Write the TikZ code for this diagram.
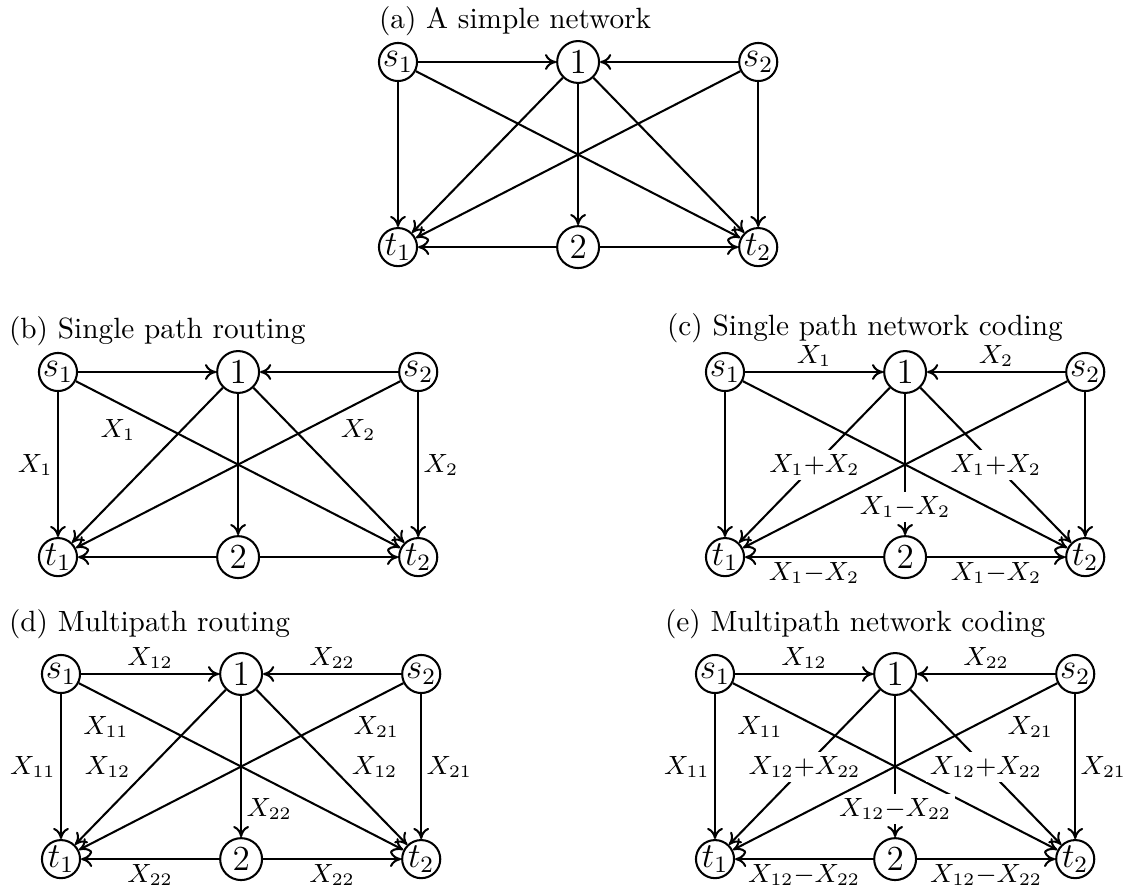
\documentclass[tikz,border=0pt]{standalone}
\usepackage{amsmath}
\usepackage{amsfonts}
\usepackage{tikz}
\usetikzlibrary{arrows.meta,automata,positioning}

\tikzset{
  every state/.style={minimum size=13pt,inner sep=0pt,font=\large},
  relay/.style={minimum size=14.3pt},
  flow/.style={font=\small,inner sep=1.5pt},
  coded/.style={font=\small,fill=white,inner sep=1.5pt,anchor=center},
  caption/.style={anchor=west,inner sep=0pt}
}

\begin{document}
\begin{tikzpicture}[x=0.012cm,y=-0.012cm,line width=0.7pt,>={To[length=3.8pt,width=5.4pt]},
        node distance=2.22cm and 2.16cm,on grid,auto]
        \useasboundingbox (0,0) rectangle (1123,888);

        % (a)
        \node[caption] (cap_a) at (378,21) {(a) A simple network};
        \node[state] (s_1a) at (398,62) {$s_1$};
        \node[state,relay] (n_1a) [right=of s_1a] {$1$};
        \node[state] (s_2a) [right=of n_1a] {$s_2$};
        \node[state] (t_1a) [below=of s_1a] {$t_1$};
        \node[state,relay] (n_2a) [right=of t_1a] {$2$};
        \node[state] (t_2a) [right=of n_2a] {$t_2$};
        \path[->]
        (s_1a) edge (n_1a)
        (s_2a) edge (n_1a)
        (s_1a) edge (t_1a)
        (s_1a) edge (t_2a)
        (n_1a) edge (t_1a)
        (n_1a) edge (n_2a)
        (n_1a) edge (t_2a)
        (s_2a) edge (t_1a)
        (s_2a) edge (t_2a)
        (n_2a) edge (t_1a)
        (n_2a) edge (t_2a);

        % (b)
        \node[caption] (cap_b) at (8,331) {(b) Single path routing};
        \node[state] (s_1b) at (58,372) {$s_1$};
        \node[state,relay] (n_1b) [right=of s_1b] {$1$};
        \node[state] (s_2b) [right=of n_1b] {$s_2$};
        \node[state] (t_1b) [below=of s_1b] {$t_1$};
        \node[state,relay] (n_2b) [right=of t_1b] {$2$};
        \node[state] (t_2b) [right=of n_2b] {$t_2$};
        \path[->]
        (s_1b) edge (n_1b)
        (s_2b) edge (n_1b)
        (s_1b) edge node[flow,left] {$X_1$} (t_1b)
        (s_1b) edge node[flow,pos=0.2,below left] {$X_1$} (t_2b)
        (n_1b) edge (t_1b)
        (n_1b) edge (n_2b)
        (n_1b) edge (t_2b)
        (s_2b) edge node[flow,pos=0.2,below right] {$X_2$} (t_1b)
        (s_2b) edge node[flow,right] {$X_2$} (t_2b)
        (n_2b) edge (t_1b)
        (n_2b) edge (t_2b);

        % (c)
        \node[caption] (cap_c) at (666,328) {(c) Single path network coding};
        \node[state] (s_1c) at (725,372) {$s_1$};
        \node[state,relay] (n_1c) [right=of s_1c] {$1$};
        \node[state] (s_2c) [right=of n_1c] {$s_2$};
        \node[state] (t_1c) [below=of s_1c] {$t_1$};
        \node[state,relay] (n_2c) [right=of t_1c] {$2$};
        \node[state] (t_2c) [right=of n_2c] {$t_2$};
        \path[->]
        (s_1c) edge node[flow,above] {$X_1$} (n_1c)
        (s_2c) edge node[flow,above] {$X_2$} (n_1c)
        (s_1c) edge (t_1c)
        (s_1c) edge (t_2c)
        (n_1c) edge node[coded] {$X_1{+}X_2$} (t_1c)
        (n_1c) edge node[coded,pos=0.8] {$X_1{-}X_2$} (n_2c)
        (n_1c) edge node[coded] {$X_1{+}X_2$} (t_2c)
        (s_2c) edge (t_1c)
        (s_2c) edge (t_2c)
        (n_2c) edge node[flow,below] {$X_1{-}X_2$} (t_1c)
        (n_2c) edge node[flow,below] {$X_1{-}X_2$} (t_2c);

        % (d)
        \node[caption] (cap_d) at (8,624) {(d) Multipath routing};
        \node[state] (s_1d) at (61,674) {$s_1$};
        \node[state,relay] (n_1d) [right=of s_1d] {$1$};
        \node[state] (s_2d) [right=of n_1d] {$s_2$};
        \node[state] (t_1d) [below=of s_1d] {$t_1$};
        \node[state,relay] (n_2d) [right=of t_1d] {$2$};
        \node[state] (t_2d) [right=of n_2d] {$t_2$};
        \path[->]
        (s_1d) edge node[flow,above] {$X_{12}$} (n_1d)
        (s_2d) edge node[flow,above] {$X_{22}$} (n_1d)
        (s_1d) edge node[flow,left] {$X_{11}$} (t_1d)
        (s_1d) edge node[flow,pos=0.17,below left] {$X_{11}$} (t_2d)
        (n_1d) edge node[flow,left,xshift=-5pt] {$X_{12}$} (t_1d)
        (n_1d) edge node[flow,pos=0.8,right] {$X_{22}$} (n_2d)
        (n_1d) edge node[flow,right,xshift=5pt] {$X_{12}$} (t_2d)
        (s_2d) edge node[flow,pos=0.17,below right] {$X_{21}$} (t_1d)
        (s_2d) edge node[flow,right] {$X_{21}$} (t_2d)
        (n_2d) edge node[flow,below] {$X_{22}$} (t_1d)
        (n_2d) edge node[flow,below] {$X_{22}$} (t_2d);

        % (e)
        \node[caption] (cap_e) at (664,624) {(e) Multipath network coding};
        \node[state] (s_1e) at (715,674) {$s_1$};
        \node[state,relay] (n_1e) [right=of s_1e] {$1$};
        \node[state] (s_2e) [right=of n_1e] {$s_2$};
        \node[state] (t_1e) [below=of s_1e] {$t_1$};
        \node[state,relay] (n_2e) [right=of t_1e] {$2$};
        \node[state] (t_2e) [right=of n_2e] {$t_2$};
        \path[->]
        (s_1e) edge node[flow,above] {$X_{12}$} (n_1e)
        (s_2e) edge node[flow,above] {$X_{22}$} (n_1e)
        (s_1e) edge node[flow,left] {$X_{11}$} (t_1e)
        (s_1e) edge node[flow,pos=0.17,below left] {$X_{11}$} (t_2e)
        (n_1e) edge node[coded] {$X_{12}{+}X_{22}$} (t_1e)
        (n_1e) edge node[coded,pos=0.8] {$X_{12}{-}X_{22}$} (n_2e)
        (n_1e) edge node[coded] {$X_{12}{+}X_{22}$} (t_2e)
        (s_2e) edge node[flow,pos=0.17,below right] {$X_{21}$} (t_1e)
        (s_2e) edge node[flow,right] {$X_{21}$} (t_2e)
        (n_2e) edge node[flow,below] {$X_{12}{-}X_{22}$} (t_1e)
        (n_2e) edge node[flow,below] {$X_{12}{-}X_{22}$} (t_2e);
    \end{tikzpicture}
\end{document}
